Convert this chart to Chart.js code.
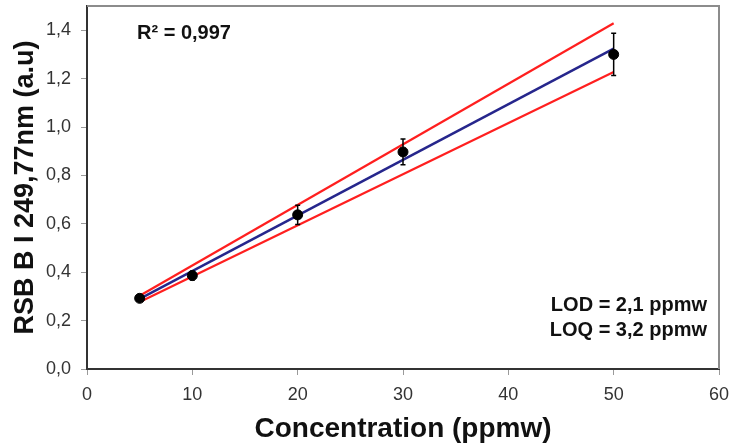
<!DOCTYPE html>
<html>
<head>
<meta charset="utf-8">
<script src="https://cdn.jsdelivr.net/npm/chart.js@4.4.1/dist/chart.umd.min.js"></script>
<style>
  html, body { margin: 0; padding: 0; background: #fff; }
  #wrap { width: 731px; height: 445px; }
</style>
</head>
<body>
<div id="wrap"><canvas id="calChart" width="731" height="445"></canvas></div>
<script>
// ---- data ----
const concentrations = [5, 10, 20, 30, 50];
const signals = [0.292, 0.386, 0.637, 0.897, 1.300];
const errors = [0.008, 0.018, 0.040, 0.053, 0.087];

const lineX = [5, 50];
const fitY = [0.290, 1.324];
const upperY = [0.303, 1.429];
const lowerY = [0.277, 1.227];

const xTicks = [0, 10, 20, 30, 40, 50, 60];
const yTicks = [0, 0.2, 0.4, 0.6, 0.8, 1.0, 1.2, 1.4];

const r2Label = 'R\u00b2 = 0,997';
const lodLabel = 'LOD = 2,1 ppmw';
const loqLabel = 'LOQ = 3,2 ppmw';

const FONT = '"Liberation Sans", Arial, sans-serif';

function toPoints(xs, ys) {
    return xs.map((x, i) => ({ x: x, y: ys[i] }));
}

// error bars + frame + text labels
const extrasPlugin = {
    id: 'extras',
    afterDatasetsDraw(chart) {
        const ctx = chart.ctx;
        const xs = chart.scales.x;
        const ys = chart.scales.y;
        ctx.save();
        ctx.strokeStyle = '#000';
        ctx.lineWidth = 1.5;
        concentrations.forEach((c, i) => {
            const px = xs.getPixelForValue(c);
            const top = ys.getPixelForValue(signals[i] + errors[i]);
            const bot = ys.getPixelForValue(signals[i] - errors[i]);
            ctx.beginPath();
            ctx.moveTo(px, top);
            ctx.lineTo(px, bot);
            ctx.moveTo(px - 2.5, top);
            ctx.lineTo(px + 2.5, top);
            ctx.moveTo(px - 2.5, bot);
            ctx.lineTo(px + 2.5, bot);
            ctx.stroke();
        });
        ctx.restore();
    },
    afterDraw(chart) {
        const ctx = chart.ctx;
        const area = chart.chartArea;
        ctx.save();
        // top and right frame
        ctx.strokeStyle = '#8c8c8c';
        ctx.lineWidth = 2;
        ctx.beginPath();
        ctx.moveTo(area.left, area.top);
        ctx.lineTo(area.right, area.top);
        ctx.lineTo(area.right, area.bottom);
        ctx.stroke();

        ctx.fillStyle = '#111';
        ctx.font = 'bold 20px ' + FONT;
        ctx.textBaseline = 'alphabetic';
        ctx.textAlign = 'left';
        ctx.fillText(r2Label, area.left + 50, area.top + 33);
        ctx.textAlign = 'right';
        ctx.fillText(lodLabel, area.right - 12, 311);
        ctx.fillText(loqLabel, area.right - 12, 336);
        ctx.restore();
    }
};

function initCalibrationChart() {
    const ctx = document.getElementById('calChart').getContext('2d');
    new Chart(ctx, {
        type: 'scatter',
        data: {
            datasets: [
                {
                    label: 'points',
                    data: toPoints(concentrations, signals),
                    backgroundColor: '#000',
                    borderColor: '#000',
                    pointRadius: 5,
                    order: 0
                },
                {
                    label: 'fit',
                    data: toPoints(lineX, fitY),
                    showLine: true,
                    borderColor: '#26268c',
                    borderWidth: 2.5,
                    pointRadius: 0,
                    order: 1
                },
                {
                    label: 'upper',
                    data: toPoints(lineX, upperY),
                    showLine: true,
                    borderColor: '#ff1f1f',
                    borderWidth: 2.2,
                    pointRadius: 0,
                    order: 2
                },
                {
                    label: 'lower',
                    data: toPoints(lineX, lowerY),
                    showLine: true,
                    borderColor: '#ff1f1f',
                    borderWidth: 2.2,
                    pointRadius: 0,
                    order: 2
                }
            ]
        },
        options: {
            responsive: false,
            animation: false,
            layout: { padding: { left: 0, right: 12, top: 6, bottom: 0 } },
            plugins: {
                legend: { display: false },
                tooltip: { enabled: false }
            },
            scales: {
                x: {
                    type: 'linear',
                    min: xTicks[0],
                    max: xTicks[xTicks.length - 1],
                    afterBuildTicks: (scale) => {
                        scale.ticks = xTicks.map(v => ({ value: v }));
                    },
                    afterFit: (scale) => {
                        scale.height = 76;
                        scale.paddingLeft = 0;
                        scale.paddingRight = 0;
                    },
                    grid: {
                        drawOnChartArea: false,
                        drawTicks: true,
                        tickLength: 6,
                        color: '#9a9a9a'
                    },
                    border: { color: '#333', width: 2 },
                    ticks: {
                        padding: 9,
                        color: '#333',
                        font: { family: FONT, size: 18 },
                        maxRotation: 0
                    },
                    title: {
                        display: true,
                        text: 'Concentration (ppmw)',
                        color: '#111',
                        font: { family: FONT, size: 28, weight: 'bold', lineHeight: 1 },
                        padding: { top: 0, bottom: 2 }
                    }
                },
                y: {
                    type: 'linear',
                    min: 0,
                    max: 1.5,
                    afterBuildTicks: (scale) => {
                        scale.ticks = yTicks.map(v => ({ value: v }));
                    },
                    afterFit: (scale) => {
                        scale.width = 87;
                        scale.paddingTop = 0;
                        scale.paddingBottom = 0;
                    },
                    grid: {
                        drawOnChartArea: false,
                        drawTicks: true,
                        tickLength: 6,
                        color: '#9a9a9a'
                    },
                    border: { color: '#333', width: 2 },
                    ticks: {
                        padding: 10,
                        color: '#333',
                        font: { family: FONT, size: 18 },
                        callback: (v) => Number(v).toFixed(1).replace('.', ',')
                    },
                    title: {
                        display: true,
                        text: 'RSB B I 249,77nm (a.u)',
                        color: '#111',
                        font: { family: FONT, size: 27, weight: 'bold', lineHeight: 1 },
                        padding: { top: 12, bottom: 0 }
                    }
                }
            }
        },
        plugins: [extrasPlugin]
    });
}

document.addEventListener('DOMContentLoaded', () => {
    initCalibrationChart();
});
</script>
</body>
</html>
